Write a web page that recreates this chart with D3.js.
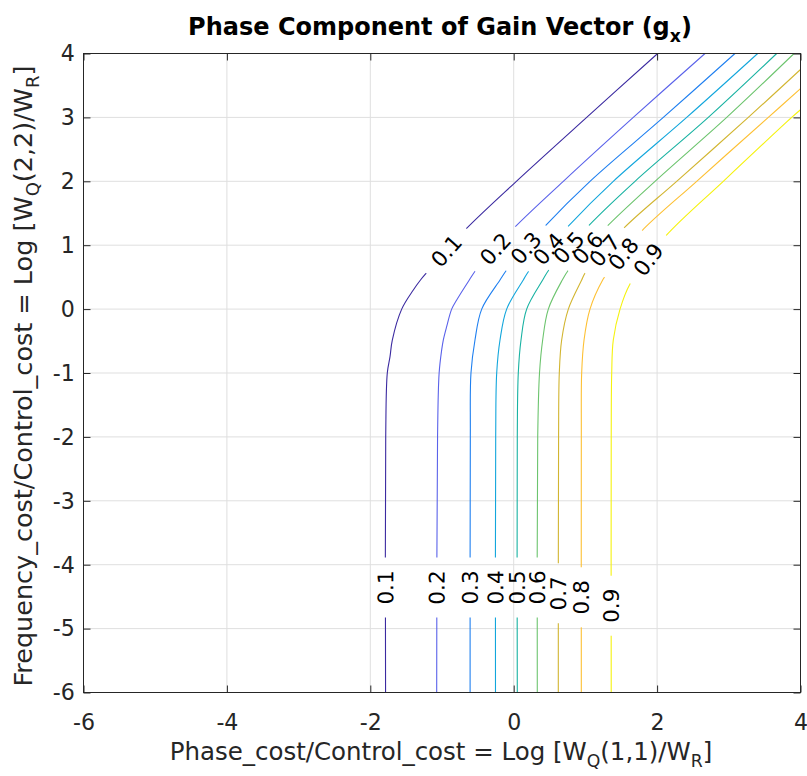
<!DOCTYPE html>
<html><head><meta charset="utf-8">
<script src="https://cdn.jsdelivr.net/npm/d3@7"></script>
<style>body{margin:0;background:#fff}svg text{font-family:'DejaVu Sans',sans-serif}</style>
</head><body><svg id="chart" width="807" height="776"></svg>
<script>
// ---------- data ----------
const xTicks = [-6, -4, -2, 0, 2, 4];
const yTicks = [-6, -5, -4, -3, -2, -1, 0, 1, 2, 3, 4];
const levels = [0.1, 0.2, 0.3, 0.4, 0.5, 0.6, 0.7, 0.8, 0.9];

// contour lines, [x, y] in data units, from bottom to top
const contour01 = [[-1.787,-6],[-1.785,-2],[-1.763,-1],[-1.725,-0.745],[-1.693,-0.484],[-1.562,0],[-1.400,0.299],[-1.300,0.455],[-1.213,0.570],[-0.94,0.911],[-0.665,1.254],[0.008,1.969],[1.018,3],[2.008,4]];
const contour02 = [[-1.074,-6],[-1.062,-2],[-1.040,-1],[-1.004,-0.635],[-0.982,-0.484],[-0.935,-0.275],[-0.865,0],[-0.795,0.142],[-0.619,0.455],[-0.526,0.612],[-0.258,0.942],[0.008,1.274],[0.692,2],[1.668,3],[2.668,4]];
const contour03 = [[-0.608,-6],[-0.605,-2],[-0.596,-1],[-0.540,-0.484],[-0.446,0],[-0.191,0.455],[-0.098,0.612],[0.169,0.956],[0.437,1.300],[1.064,2],[2.087,3],[3.086,4]];
const contour04 = [[-0.254,-6],[-0.251,-2],[-0.237,-1],[-0.191,-0.484],[-0.098,0],[0.134,0.455],[0.204,0.585],[0.483,0.942],[0.762,1.300],[1.389,2],[2.413,3],[3.403,4]];
const contour05 = [[0.050,-6],[0.050,-2],[0.064,-1],[0.102,-0.484],[0.181,0],[0.404,0.455],[0.497,0.623],[0.768,0.961],[1.040,1.300],[1.692,2],[2.714,3],[3.668,4]];
const contour06 = [[0.329,-6],[0.335,-2],[0.360,-1],[0.404,-0.484],[0.483,0],[0.678,0.455],[0.771,0.623],[1.033,0.956],[1.297,1.290],[1.971,2],[2.971,3],[3.91,4]];
const contour07 = [[0.622,-6],[0.626,-2],[0.636,-1],[0.669,-0.484],[0.762,0],[0.948,0.455],[0.994,0.560],[1.269,0.917],[1.543,1.274],[2.273,2],[3.272,3],[4,3.75]];
const contour08 = [[0.943,-6],[0.943,-2],[0.948,-1],[0.981,-0.484],[1.064,0],[1.241,0.455],[1.273,0.507],[1.529,0.865],[1.785,1.222],[2.552,2],[3.551,3],[4,3.45]];
const contour09 = [[1.360,-6],[1.360,-2],[1.367,-1],[1.389,-0.484],[1.483,0],[1.622,0.393],[1.877,0.776],[2.134,1.160],[2.923,2],[3.877,3],[4,3.12]];
const contourLines = [contour01, contour02, contour03, contour04, contour05, contour06, contour07, contour08, contour09];

// label positions (data units)
const lowerLabelY = [-4.357, -4.357, -4.357, -4.357, -4.357, -4.357, -4.448, -4.510, -4.642];
const upperLabelPos = [[-0.940,0.911],[-0.258,0.942],[0.169,0.956],[0.483,0.942],[0.768,0.961],[1.033,0.956],[1.269,0.917],[1.529,0.865],[1.877,0.776]];

// ---------- styles ----------
const lineColors = ['#3b2aa0','#5a62ea','#1e7ff0','#12a6dc','#18b2a2','#6cc46e','#d2b530','#fdc033','#f5f20e'];
const W = 807, H = 776;
const plot = {left: 83.5, right: 800.5, top: 53.5, bottom: 692.5};
const hScale = 0.96; // horizontal squeeze of horizontal text

const svg = d3.select('#chart');
const defs = svg.append('defs');
svg.append('rect').attr('width', W).attr('height', H).attr('fill', '#fff');

const x = d3.scaleLinear().domain([-6, 4]).range([plot.left, plot.right]);
const y = d3.scaleLinear().domain([-6, 4]).range([plot.bottom, plot.top]);

// grid
const grid = svg.append('g').attr('stroke', '#dfdfdf').attr('stroke-width', 1);
grid.selectAll('line.gx').data(xTicks).join('line').attr('class','gx')
  .attr('x1', d => x(d)).attr('x2', d => x(d)).attr('y1', plot.top).attr('y2', plot.bottom);
grid.selectAll('line.gy').data(yTicks).join('line').attr('class','gy')
  .attr('y1', d => y(d)).attr('y2', d => y(d)).attr('x1', plot.left).attr('x2', plot.right);

// labels: geometry
function tangentAngle(pts, px, py) {
  let best = 0, bd = Infinity;
  for (let i = 0; i < pts.length - 1; i++) {
    const ax = x(pts[i][0]), ay = y(pts[i][1]), bx = x(pts[i+1][0]), by = y(pts[i+1][1]);
    const dx = bx - ax, dy = by - ay;
    const t = Math.max(0, Math.min(1, ((px-ax)*dx + (py-ay)*dy) / (dx*dx + dy*dy)));
    const d = Math.hypot(ax + t*dx - px, ay + t*dy - py);
    if (d < bd) { bd = d; best = i; }
  }
  const a = pts[best], b = pts[best+1];
  let ang = Math.atan2(y(b[1]) - y(a[1]), x(b[0]) - x(a[0])) * 180 / Math.PI;
  if (ang > 90) ang -= 180;
  if (ang < -90) ang += 180;
  return ang;
}
const labels = [];
levels.forEach((lv, i) => {
  const pts = contourLines[i];
  const lx = x(pts[0][0]), ly = y(lowerLabelY[i]);
  labels.push({lv, px: lx, py: ly, ang: tangentAngle(pts, lx, ly)});
  const ux = x(upperLabelPos[i][0]), uy = y(upperLabelPos[i][1]);
  labels.push({lv, px: ux, py: uy, ang: tangentAngle(pts, ux, uy)});
});

// mask cutting the lines under labels
const mask = defs.append('mask').attr('id', 'lblmask').attr('maskUnits', 'userSpaceOnUse')
  .attr('x', 0).attr('y', 0).attr('width', W).attr('height', H);
mask.append('rect').attr('width', W).attr('height', H).attr('fill', '#fff');
mask.selectAll('rect.cut').data(labels).join('rect').attr('class', 'cut')
  .attr('x', -30).attr('y', -12).attr('width', 60).attr('height', 24).attr('fill', '#000')
  .attr('transform', d => `translate(${d.px},${d.py}) rotate(${d.ang})`);
defs.append('clipPath').attr('id', 'plotclip').append('rect')
  .attr('x', plot.left).attr('y', plot.top).attr('width', plot.right - plot.left).attr('height', plot.bottom - plot.top);

const lineGen = d3.line().x(d => x(d[0])).y(d => y(d[1])).curve(d3.curveCatmullRom.alpha(0.5));
svg.append('g').attr('clip-path', 'url(#plotclip)').append('g').attr('mask', 'url(#lblmask)')
  .selectAll('path').data(contourLines).join('path')
  .attr('d', lineGen).attr('fill', 'none').attr('stroke', (d, i) => lineColors[i]).attr('stroke-width', 1.1);

svg.append('g').selectAll('text').data(labels).join('text')
  .attr('transform', d => `translate(${d.px},${d.py}) rotate(${d.ang})`)
  .attr('text-anchor', 'middle').attr('dy', '0.36em')
  .style('font-size', '21.5px').attr('fill', '#000')
  .text(d => d3.format('.1f')(d.lv));

// axes
const axisColor = '#262626';
const tickFmt = d => String(d);
const axB = svg.append('g').attr('transform', `translate(0,${plot.bottom})`)
  .call(d3.axisBottom(x).tickValues(xTicks).tickSize(-7).tickSizeOuter(0).tickPadding(21).tickFormat(tickFmt));
const axL = svg.append('g').attr('transform', `translate(${plot.left},0)`)
  .call(d3.axisLeft(y).tickValues(yTicks).tickSize(-7).tickSizeOuter(0).tickPadding(9).tickFormat(tickFmt));
const axT = svg.append('g').attr('transform', `translate(0,${plot.top})`)
  .call(d3.axisTop(x).tickValues(xTicks).tickSize(-7).tickSizeOuter(0).tickFormat(''));
const axR = svg.append('g').attr('transform', `translate(${plot.right},0)`)
  .call(d3.axisRight(y).tickValues(yTicks).tickSize(-7).tickSizeOuter(0).tickFormat(''));
[axB, axL, axT, axR].forEach(a => {
  a.select('.domain').remove();
  a.selectAll('line').attr('stroke', axisColor);
  a.selectAll('text').attr('fill', axisColor).style('font-size', '23px').attr('font-family', null);
});
axB.selectAll('text').attr('transform', `scale(${hScale},1)`);
axL.selectAll('text').attr('transform', `scale(${hScale},1)`);
svg.append('rect').attr('x', plot.left).attr('y', plot.top)
  .attr('width', plot.right - plot.left).attr('height', plot.bottom - plot.top)
  .attr('fill', 'none').attr('stroke', axisColor).attr('stroke-width', 1);

// title
const title = svg.append('text').attr('transform', `translate(${(plot.left + plot.right) / 2 - 2},35) scale(${hScale},1)`)
  .attr('text-anchor', 'middle').style('font-size', '25px').style('font-weight', 'bold').attr('fill', '#000');
title.append('tspan').text('Phase Component of Gain Vector (g');
title.append('tspan').attr('dy', 7).style('font-size', '18px').text('x');
title.append('tspan').attr('dy', -7).text(')');

// x label
const xl = svg.append('text').attr('transform', `translate(${(plot.left + plot.right) / 2 - 1},760) scale(${hScale},1)`)
  .attr('text-anchor', 'middle').style('font-size', '25.5px').attr('fill', axisColor);
xl.append('tspan').text('Phase_cost/Control_cost = Log [W');
xl.append('tspan').attr('dy', 7).style('font-size', '18px').text('Q');
xl.append('tspan').attr('dy', -7).text('(1,1)/W');
xl.append('tspan').attr('dy', 7).style('font-size', '18px').text('R');
xl.append('tspan').attr('dy', -7).text(']');

// y label
const yl = svg.append('text').attr('transform', `translate(32,376) rotate(-90)`)
  .attr('text-anchor', 'middle').style('font-size', '25.5px').attr('fill', axisColor);
yl.append('tspan').text('Frequency_cost/Control_cost = Log [W');
yl.append('tspan').attr('dy', 7).style('font-size', '18px').text('Q');
yl.append('tspan').attr('dy', -7).text('(2,2)/W');
yl.append('tspan').attr('dy', 7).style('font-size', '18px').text('R');
yl.append('tspan').attr('dy', -7).text(']');
</script></body></html>
